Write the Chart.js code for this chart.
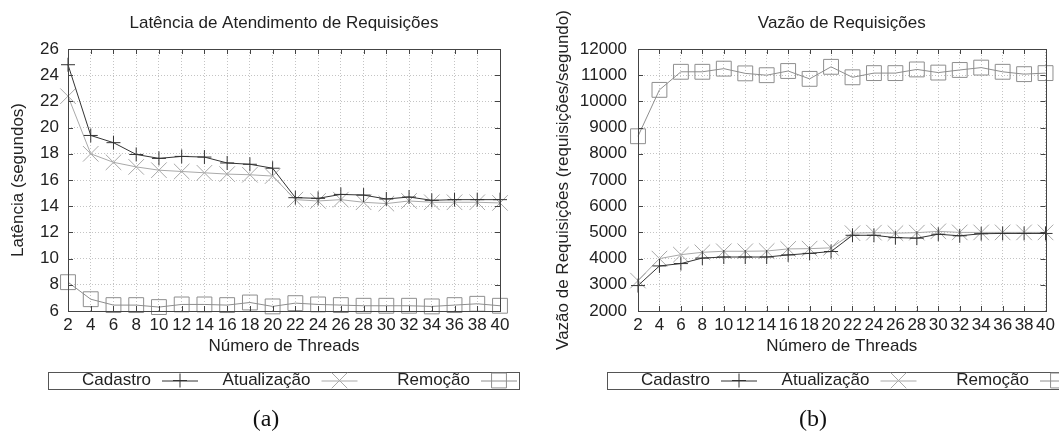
<!DOCTYPE html>
<html>
<head>
<meta charset="utf-8">
<script src="https://cdn.jsdelivr.net/npm/chart.js@4.4.1/dist/chart.umd.min.js"></script>
<style>
  body { margin: 0; background: #fff; width: 1059px; height: 439px; overflow: hidden; position: relative; }
  .panel { position: absolute; top: 0; }
  #panelA { left: 0; }
  #panelB { left: 530px; }
  .caption { position: absolute; top: 406px; font-family: "Liberation Serif", "Times New Roman", serif;
             font-size: 24px; line-height: 24px; color: #111; transform: translateX(-50%); }
</style>
</head>
<body>
<div class="panel" id="panelA"><canvas id="latencia" width="530" height="439"></canvas></div>
<div class="panel" id="panelB"><canvas id="vazao" width="529" height="439"></canvas></div>
<div class="caption" style="left:266px">(a)</div>
<div class="caption" style="left:813px">(b)</div>
<script>
const threads = ['2', '4', '6', '8', '10', '12', '14', '16', '18', '20',
                 '22', '24', '26', '28', '30', '32', '34', '36', '38', '40'];
const seriesNames = ['Cadastro', 'Atualização', 'Remoção'];

// latência (segundos)
const latCadastro    = [24.8, 19.4, 18.85, 17.95, 17.65, 17.8, 17.75, 17.3, 17.2, 16.9,
                        14.65, 14.6, 14.9, 14.85, 14.55, 14.7, 14.45, 14.5, 14.5, 14.5];
const latAtualizacao = [22.4, 18.0, 17.35, 17.0, 16.75, 16.65, 16.55, 16.45, 16.4, 16.3,
                        14.5, 14.4, 14.5, 14.3, 14.2, 14.4, 14.3, 14.3, 14.3, 14.25];
const latRemocao     = [8.2, 6.9, 6.45, 6.45, 6.3, 6.5, 6.5, 6.45, 6.65, 6.35,
                        6.6, 6.5, 6.45, 6.4, 6.4, 6.4, 6.35, 6.45, 6.55, 6.4];
const latTicks = [6, 8, 10, 12, 14, 16, 18, 20, 22, 24, 26];

// vazão (requisições/segundo)
const vazCadastro    = [2970, 3720, 3810, 4020, 4060, 4060, 4060, 4140, 4200, 4270,
                        4890, 4890, 4800, 4780, 4930, 4870, 4950, 4960, 4960, 4960];
const vazAtualizacao = [3160, 4000, 4150, 4240, 4280, 4280, 4290, 4370, 4380, 4410,
                        4970, 4990, 4970, 4990, 5040, 5000, 5000, 5000, 5000, 5000];
const vazRemocao     = [8670, 10440, 11130, 11130, 11250, 11070, 11000, 11160, 10860, 11320,
                        10920, 11080, 11080, 11220, 11100, 11200, 11290, 11130, 11040, 11080];
const vazTicks = [2000, 3000, 4000, 5000, 6000, 7000, 8000, 9000, 10000, 11000, 12000];

const colors = ['#333333', '#a9a9a9', '#8e8e8e'];
const markers = ['cross', 'crossRot', 'rect'];
const radii = [7, 11, 10.5];
const FONT = '"Liberation Sans", Arial, Helvetica, sans-serif';

Chart.defaults.font.family = FONT;
Chart.defaults.font.size = 17;
Chart.defaults.color = '#222';

function drawMarker(ctx, style, r, x, y) {
  ctx.beginPath();
  if (style === 'cross') {
    ctx.moveTo(x - r, y); ctx.lineTo(x + r, y);
    ctx.moveTo(x, y - r); ctx.lineTo(x, y + r);
  } else if (style === 'crossRot') {
    const d = r * Math.SQRT1_2;
    ctx.moveTo(x - d, y - d); ctx.lineTo(x + d, y + d);
    ctx.moveTo(x - d, y + d); ctx.lineTo(x + d, y - d);
  } else {
    const d = r * Math.SQRT1_2;
    ctx.rect(x - d, y - d, 2 * d, 2 * d);
  }
  ctx.stroke();
}

// gnuplot look: frame, inward ticks, title over the plot, boxed key below
const gnuplotLook = {
  id: 'gnuplotLook',
  afterDatasetsDraw(chart, args, opts) {
    const {ctx, chartArea: a, scales: {x, y}} = chart;
    ctx.save();
    ctx.strokeStyle = '#444';
    ctx.lineWidth = 1;
    ctx.strokeRect(Math.round(a.left) + 0.5, Math.round(a.top) + 0.5,
                   Math.round(a.right - a.left), Math.round(a.bottom - a.top));
    ctx.beginPath();
    x.ticks.forEach((t, i) => {
      const px = Math.round(x.getPixelForTick(i)) + 0.5;
      ctx.moveTo(px, a.bottom); ctx.lineTo(px, a.bottom - 5);
      ctx.moveTo(px, a.top); ctx.lineTo(px, a.top + 5);
    });
    y.ticks.forEach((t, i) => {
      const py = Math.round(y.getPixelForTick(i)) + 0.5;
      ctx.moveTo(a.left, py); ctx.lineTo(a.left + 5, py);
      ctx.moveTo(a.right, py); ctx.lineTo(a.right - 5, py);
    });
    ctx.stroke();

    ctx.fillStyle = '#222';
    ctx.font = '17px ' + FONT;
    ctx.textAlign = 'center';
    ctx.textBaseline = 'middle';
    ctx.fillText(opts.title, (a.left + a.right) / 2, 23);

    // key
    const L = opts.keyLeft, top = 372, h = 17, w = 471, cy = top + h / 2;
    ctx.strokeStyle = '#555';
    ctx.strokeRect(L + 0.5, top + 0.5, w, h);
    ctx.textAlign = 'right';
    chart.data.datasets.forEach((ds, i) => {
      const te = L + 103 + i * 159.5;
      ctx.fillStyle = '#222';
      ctx.fillText(ds.label, te, cy);
      ctx.strokeStyle = ds.borderColor;
      ctx.beginPath();
      ctx.moveTo(te + 11, cy + 0.5); ctx.lineTo(te + 47, cy + 0.5);
      ctx.stroke();
      drawMarker(ctx, ds.pointStyle, ds.pointRadius, te + 29, cy);
    });
    ctx.restore();
  }
};

function makeChart(id, title, yTitle, values, yTicks, opt) {
  return new Chart(document.getElementById(id), {
    type: 'line',
    data: {
      labels: threads,
      datasets: values.map((v, i) => ({
        label: seriesNames[i],
        data: v,
        borderColor: colors[i],
        borderWidth: 1,
        tension: 0,
        pointStyle: markers[i],
        pointRadius: radii[i],
        pointBorderColor: colors[i],
        pointBackgroundColor: 'rgba(0,0,0,0)',
        pointBorderWidth: 1,
        clip: false
      }))
    },
    options: {
      responsive: false,
      animation: false,
      events: [],
      layout: { padding: { left: 0, right: opt.padRight, top: 49, bottom: 78 } },
      plugins: {
        legend: { display: false },
        tooltip: { enabled: false },
        gnuplotLook: { title: title, keyLeft: opt.keyLeft }
      },
      scales: {
        x: {
          offset: false,
          ticks: { autoSkip: false, maxRotation: 0, padding: 4, color: '#222' },
          grid: { color: '#c4c4c4', drawTicks: false },
          border: { display: false, dash: [1, 2] },
          title: { display: true, text: 'Número de Threads', padding: { top: 0, bottom: 4 }, color: '#222' },
          afterFit: s => { s.height = 50; }
        },
        y: {
          min: yTicks[0],
          max: yTicks[yTicks.length - 1],
          afterBuildTicks: s => { s.ticks = yTicks.map(v => ({ value: v })); },
          ticks: { padding: opt.tickPad, color: '#222', callback: v => String(v) },
          grid: { color: '#c4c4c4', drawTicks: false },
          border: { display: false, dash: [1, 2] },
          title: { display: true, text: yTitle, padding: { top: opt.titlePad, bottom: 0 }, color: '#222' },
          afterFit: s => { s.width = opt.yWidth; }
        }
      }
    },
    plugins: [gnuplotLook]
  });
}

makeChart('latencia', 'Latência de Atendimento de Requisições', 'Latência (segundos)',
          [latCadastro, latAtualizacao, latRemocao], latTicks,
          { padRight: 30, yWidth: 68, tickPad: 9, titlePad: 8, keyLeft: 48 });
makeChart('vazao', 'Vazão de Requisições', 'Vazão de Requisições (requisições/segundo)',
          [vazCadastro, vazAtualizacao, vazRemocao], vazTicks,
          { padRight: 11, yWidth: 108, tickPad: 11, titlePad: 23, keyLeft: 77 });
</script>
</body>
</html>
